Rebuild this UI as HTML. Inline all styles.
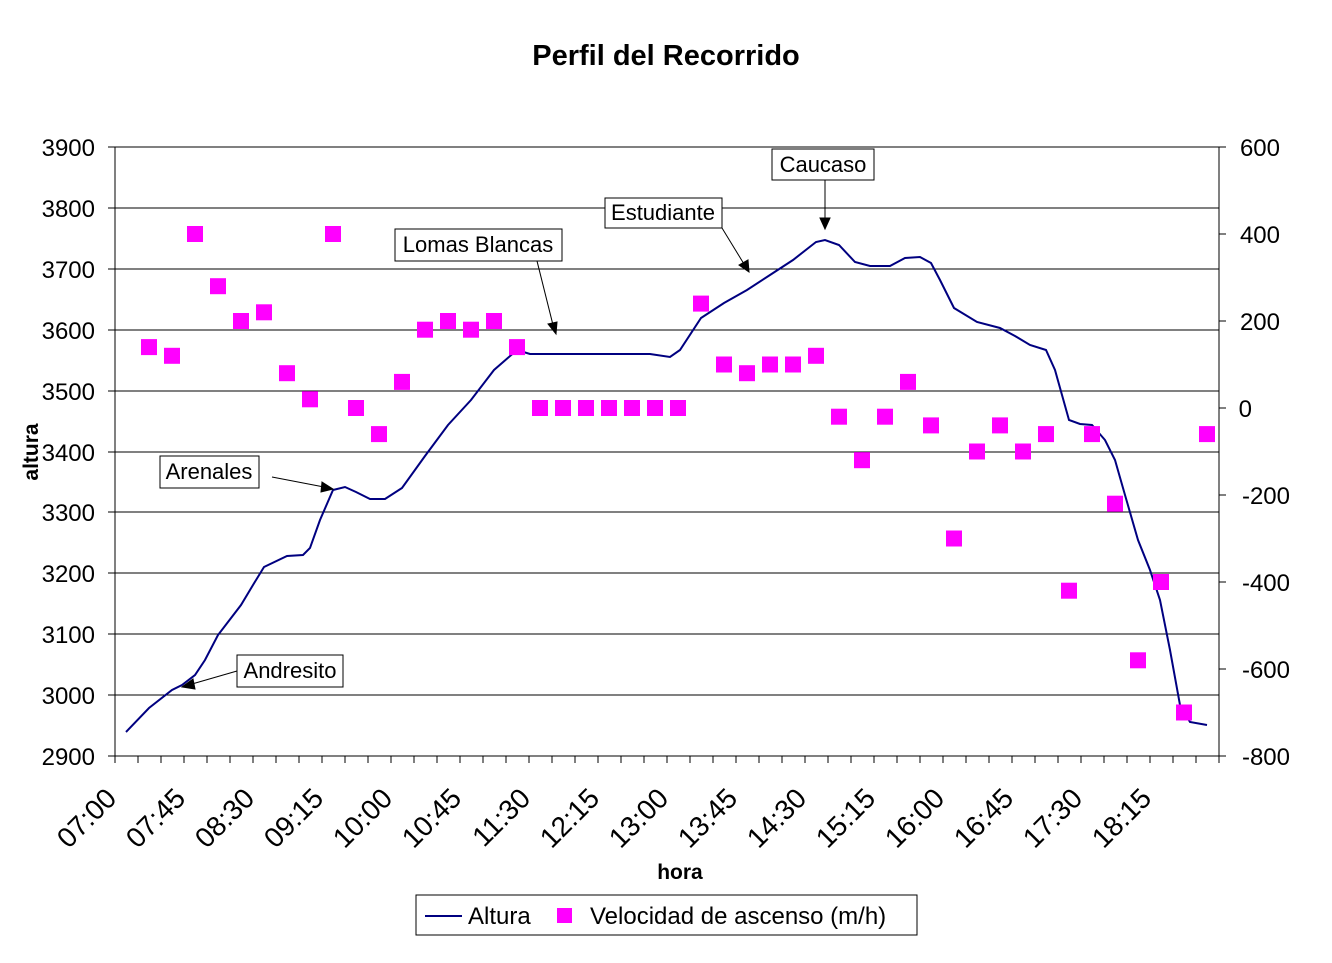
<!DOCTYPE html>
<html><head><meta charset="utf-8"><style>body{margin:0;background:#fff}</style></head><body>
<svg width="1332" height="958" xmlns="http://www.w3.org/2000/svg" font-family="Liberation Sans, Arial, sans-serif">
<rect width="1332" height="958" fill="#fff"/>
<text x="666" y="65" font-size="29" font-weight="bold" text-anchor="middle">Perfil del Recorrido</text>
<g stroke="#000" stroke-width="1">
<line x1="115" y1="147" x2="1219" y2="147"/><line x1="115" y1="208" x2="1219" y2="208"/><line x1="115" y1="269" x2="1219" y2="269"/><line x1="115" y1="330" x2="1219" y2="330"/><line x1="115" y1="391" x2="1219" y2="391"/><line x1="115" y1="452" x2="1219" y2="452"/><line x1="115" y1="512" x2="1219" y2="512"/><line x1="115" y1="573" x2="1219" y2="573"/><line x1="115" y1="634" x2="1219" y2="634"/><line x1="115" y1="695" x2="1219" y2="695"/><line x1="115" y1="756" x2="1219" y2="756"/>
<line x1="115" y1="147" x2="115" y2="756"/><line x1="1219" y1="147" x2="1219" y2="756"/>
</g>
<g stroke="#000" id="ticks"></g>
<g font-size="24" text-anchor="end">
<text x="95" y="156">3900</text><text x="95" y="217">3800</text><text x="95" y="278">3700</text><text x="95" y="339">3600</text><text x="95" y="400">3500</text><text x="95" y="461">3400</text><text x="95" y="521">3300</text><text x="95" y="582">3200</text><text x="95" y="643">3100</text><text x="95" y="704">3000</text><text x="95" y="765">2900</text>
</g>
<g font-size="24" text-anchor="end">
<text x="1280" y="156">600</text><text x="1280" y="243">400</text><text x="1280" y="330">200</text><text x="1252" y="417">0</text><text x="1290" y="504">-200</text><text x="1290" y="591">-400</text><text x="1290" y="678">-600</text><text x="1290" y="765">-800</text>
</g>
<text transform="translate(38,452) rotate(-90)" font-size="21" font-weight="bold" text-anchor="middle">altura</text>
<text x="680" y="879" font-size="21" font-weight="bold" text-anchor="middle">hora</text>
<g font-size="28" text-anchor="end" id="xl"></g>
<polyline fill="none" stroke="#000080" stroke-width="2" points="126,732 149,708 172,690 182,685 195,675 205,660 218,635 241,605 253,585 264,567 287,556 303,555 310,548 320,520 333,490 345,487 356,492 370,499 385,499 402,488 425,456 448,425 471,400 494,370 517,350 530,354 550,354 600,354 650,354 670,357 680,350 701,318 724,303 747,290 770,275 793,260 816,242 825,240 839,245 855,262 870,266 890,266 905,258 920,257 931,263 940,280 954,308 977,322 1000,328 1015,336 1030,345 1046,350 1055,370 1069,420 1080,424 1092,425 1105,440 1115,460 1125,495 1138,540 1150,570 1160,600 1170,650 1180,705 1190,722 1207,725"/>
<g fill="#ff00ff" id="pts"></g>
<g font-size="22" stroke-width="1">
<rect x="772" y="149" width="102" height="31" fill="#fff" stroke="#000"/><text x="823" y="172" text-anchor="middle">Caucaso</text>
<rect x="605" y="198" width="117" height="30" fill="#fff" stroke="#000"/><text x="663" y="220" text-anchor="middle">Estudiante</text>
<rect x="395" y="229" width="167" height="32" fill="#fff" stroke="#000"/><text x="478" y="252" text-anchor="middle">Lomas Blancas</text>
<rect x="160" y="456" width="99" height="32" fill="#fff" stroke="#000"/><text x="209" y="479" text-anchor="middle">Arenales</text>
<rect x="237" y="655" width="106" height="32" fill="#fff" stroke="#000"/><text x="290" y="678" text-anchor="middle">Andresito</text>
</g>
<g stroke="#000" stroke-width="1">
<line x1="825" y1="180" x2="825" y2="220"/><polygon points="820,218 830,218 825,229" fill="#000"/>
<line x1="722" y1="228" x2="744" y2="264"/><polygon points="739,265 748,260 749,272" fill="#000"/>
<line x1="537" y1="261" x2="553" y2="325"/><polygon points="548,324 557,322 556,334" fill="#000"/>
<line x1="272" y1="477" x2="324" y2="487"/><polygon points="322,482 333,489 321,492" fill="#000"/>
<line x1="237" y1="671" x2="192" y2="684"/><polygon points="193,679 182,687 195,689" fill="#000"/>
</g>
<rect x="416" y="895" width="501" height="40" fill="#fff" stroke="#000"/>
<line x1="425" y1="916" x2="462" y2="916" stroke="#000080" stroke-width="2"/>
<text x="468" y="924" font-size="24">Altura</text>
<rect x="557" y="908" width="15" height="15" fill="#ff00ff"/>
<text x="590" y="924" font-size="24">Velocidad de ascenso (m/h)</text>
<script>
var ns="http://www.w3.org/2000/svg";
var t=document.getElementById("ticks");
for(var i=0;i<=48;i++){var l=document.createElementNS(ns,"line");var x=115+23*i;l.setAttribute("x1",x);l.setAttribute("x2",x);l.setAttribute("y1",756);l.setAttribute("y2",763);t.appendChild(l);}
[[108,147],[108,208],[108,269],[108,330],[108,391],[108,452],[108,512],[108,573],[108,634],[108,695],[108,756],[1219,147],[1219,234],[1219,321],[1219,408],[1219,495],[1219,582],[1219,669],[1219,756]].forEach(function(p){var l=document.createElementNS(ns,"line");l.setAttribute("x1",p[0]);l.setAttribute("x2",p[0]+7);l.setAttribute("y1",p[1]);l.setAttribute("y2",p[1]);t.appendChild(l);});
var labs=["07:00","07:45","08:30","09:15","10:00","10:45","11:30","12:15","13:00","13:45","14:30","15:15","16:00","16:45","17:30","18:15"];
var xl=document.getElementById("xl");
labs.forEach(function(s,k){var x=118+69*k,y=800;var e=document.createElementNS(ns,"text");e.setAttribute("x",x);e.setAttribute("y",y);e.setAttribute("transform","rotate(-45 "+x+" "+y+")");e.textContent=s;xl.appendChild(e);});
var v=[null,140,120,400,280,200,220,80,20,400,0,-60,60,180,200,180,200,140,0,0,0,0,0,0,0,240,100,80,100,100,120,-20,-120,-20,60,-40,-300,-100,-40,-100,-60,-420,-60,-220,-580,-400,-700,-60];
var g=document.getElementById("pts");
v.forEach(function(val,i){if(val===null)return;var r=document.createElementNS(ns,"rect");var x=126+23*i,y=408-val*0.435;r.setAttribute("x",x-8);r.setAttribute("y",y-8);r.setAttribute("width",16);r.setAttribute("height",16);g.appendChild(r);});
</script>
</svg>
</body></html>
